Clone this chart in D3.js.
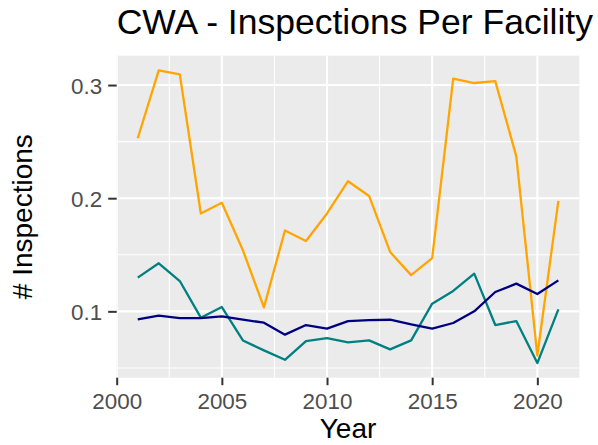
<!DOCTYPE html>
<html>
<head>
<meta charset="utf-8">
<script src="https://cdn.jsdelivr.net/npm/d3@7"></script>
<style>
  html, body { margin: 0; padding: 0; background: #fff; }
  svg { display: block; font-family: "Liberation Sans", Arial, sans-serif; }
</style>
</head>
<body>
<svg id="chart" width="598" height="445"></svg>
<script>
const years = [2001,2002,2003,2004,2005,2006,2007,2008,2009,2010,2011,2012,2013,2014,2015,2016,2017,2018,2019,2020,2021];
const orangeSeries = [0.253,0.313,0.3095,0.1865,0.196,0.154,0.1035,0.1715,0.1622,0.1865,0.215,0.202,0.1525,0.132,0.147,0.3056,0.3018,0.3035,0.237,0.061,0.1976];
const tealSeries = [0.1298,0.1425,0.1268,0.0944,0.1038,0.0743,0.0655,0.0572,0.0737,0.0764,0.0726,0.0743,0.0664,0.0743,0.1068,0.118,0.1333,0.0879,0.0914,0.0543,0.1018];
const navySeries = [0.0929,0.0962,0.0941,0.0941,0.0956,0.0926,0.09,0.0794,0.0879,0.0847,0.0914,0.0923,0.0926,0.0885,0.0847,0.0897,0.1,0.1171,0.1245,0.1153,0.1274];
const xTicks = [2000,2005,2010,2015,2020];
const xMinor = [2002.5,2007.5,2012.5,2017.5];
const yTicks = [0.1,0.2,0.3];
const yMinor = [0.05,0.15,0.25];
const titleText = "CWA - Inspections Per Facility";
const xLabel = "Year";
const yLabel = "# Inspections";

const series = [
  {name: "orange", values: orangeSeries, color: "#FFA500"},
  {name: "teal", values: tealSeries, color: "#008080"},
  {name: "navy", values: navySeries, color: "#000080"}
];

const svg = d3.select("#chart");
const panel = {left: 116.7, right: 579.4, top: 55.7, bottom: 377.7};

const allVals = series.flatMap(s => s.values);
const yMin = d3.min(allVals), yMax = d3.max(allVals);
const yPad = (yMax - yMin) * 0.05;
const x = d3.scaleLinear().domain([2000, 2022]).range([panel.left, panel.right]);
const y = d3.scaleLinear().domain([yMin - yPad, yMax + yPad]).range([panel.bottom, panel.top]);

svg.append("defs").append("clipPath").attr("id", "clip")
  .append("rect").attr("x", panel.left).attr("y", panel.top)
  .attr("width", panel.right - panel.left).attr("height", panel.bottom - panel.top);

svg.append("rect").attr("x", panel.left).attr("y", panel.top)
  .attr("width", panel.right - panel.left).attr("height", panel.bottom - panel.top)
  .attr("fill", "#EBEBEB");

const grid = svg.append("g").attr("clip-path", "url(#clip)");
grid.selectAll(".ymin").data(yMinor).join("line")
  .attr("x1", panel.left).attr("x2", panel.right)
  .attr("y1", d => y(d)).attr("y2", d => y(d))
  .attr("stroke", "#fff").attr("stroke-width", 1.05);
grid.selectAll(".xmin").data(xMinor).join("line")
  .attr("y1", panel.top).attr("y2", panel.bottom)
  .attr("x1", d => x(d)).attr("x2", d => x(d))
  .attr("stroke", "#fff").attr("stroke-width", 1.05);
grid.selectAll(".ymaj").data(yTicks).join("line")
  .attr("x1", panel.left).attr("x2", panel.right)
  .attr("y1", d => y(d)).attr("y2", d => y(d))
  .attr("stroke", "#fff").attr("stroke-width", 2.1);
grid.selectAll(".xmaj").data(xTicks).join("line")
  .attr("y1", panel.top).attr("y2", panel.bottom)
  .attr("x1", d => x(d)).attr("x2", d => x(d))
  .attr("stroke", "#fff").attr("stroke-width", 2.1);

const line = d3.line().x((d, i) => x(years[i])).y(d => y(d));
const lines = svg.append("g").attr("clip-path", "url(#clip)");
series.forEach(s => {
  lines.append("path").datum(s.values)
    .attr("d", line).attr("fill", "none")
    .attr("stroke", s.color).attr("stroke-width", 2.3)
    .attr("stroke-linejoin", "round");
});

// Axes
const xAxis = svg.append("g").attr("transform", `translate(0,${panel.bottom})`)
  .call(d3.axisBottom(x).tickValues(xTicks).tickFormat(d3.format("d")).tickSize(7.5).tickPadding(6));
const yAxis = svg.append("g").attr("transform", `translate(${panel.left},0)`)
  .call(d3.axisLeft(y).tickValues(yTicks).tickFormat(d3.format(".1f")).tickSize(8.5).tickPadding(6));
[xAxis, yAxis].forEach(a => {
  a.select(".domain").remove();
  a.selectAll(".tick line").attr("stroke", "#333333").attr("stroke-width", 2);
  a.selectAll(".tick text").attr("fill", "#4D4D4D")
    .style("font-size", "22.4px").style("font-family", "Liberation Sans, Arial, sans-serif");
});
xAxis.selectAll(".tick text").attr("y", 31).attr("dy", 0);
yAxis.selectAll(".tick text").attr("dy", "0.36em");

const title = svg.append("text").attr("x", panel.left).attr("y", 34)
  .attr("fill", "#000").style("font-size", "33.6px").text(titleText);
const tw = title.node().getComputedTextLength();
title.style("font-size", (33.6 * 476 / tw).toFixed(2) + "px");

svg.append("text").attr("x", (panel.left + panel.right) / 2).attr("y", 437.5)
  .attr("text-anchor", "middle").attr("fill", "#000").style("font-size", "28px").text(xLabel);

svg.append("text")
  .attr("transform", `translate(32,${(panel.top + panel.bottom) / 2}) rotate(-90)`)
  .attr("text-anchor", "middle").attr("fill", "#000").style("font-size", "28px").text(yLabel);
</script>
</body>
</html>
